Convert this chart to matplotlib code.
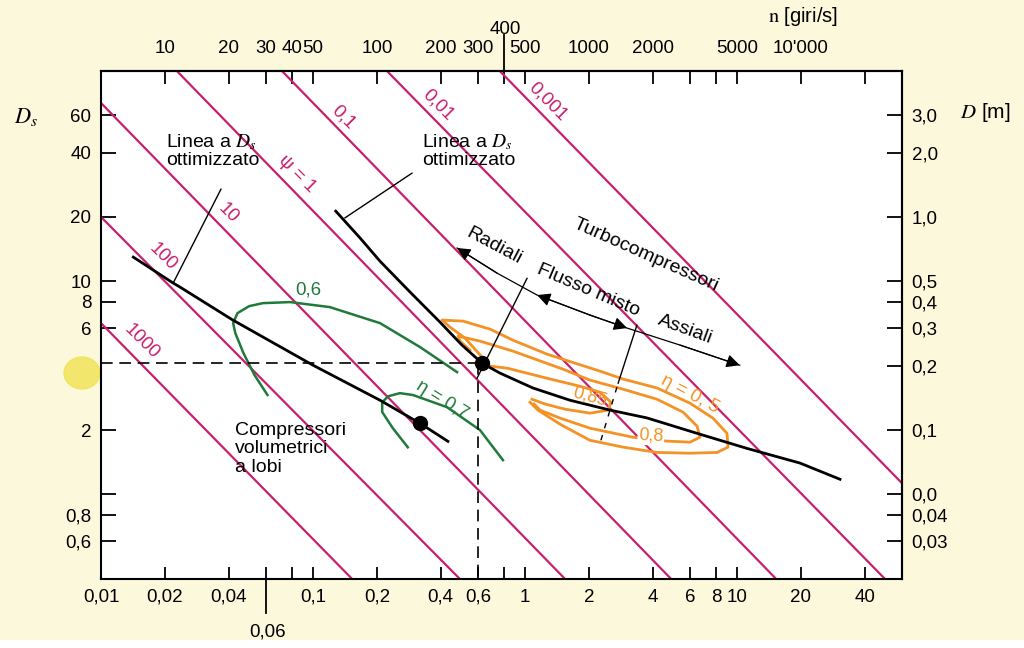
import matplotlib
matplotlib.use('Agg')
import matplotlib.pyplot as plt
from matplotlib.ticker import NullLocator, FixedLocator, FixedFormatter
from matplotlib.patches import Ellipse, Rectangle

plt.rcParams['font.family'] = ['Liberation Sans', 'DejaVu Sans']
plt.rcParams['mathtext.fontset'] = 'stix'

# ---------------- data ----------------
bottom_ticks = [0.01, 0.02, 0.04, 0.06, 0.08, 0.1, 0.2, 0.4, 0.6, 0.8, 1, 2, 4, 6, 8, 10, 20, 40]
bottom_labels = ['0,01', '0,02', '0,04', '', '', '0,1', '0,2', '0,4', '0,6', '', '1', '2', '4', '6', '8', '10', '20', '40']
top_n_ticks = [10, 20, 30, 40, 50, 100, 200, 300, 400, 500, 1000, 2000, 3000, 4000, 5000, 10000, 20000]
top_labels = ['10', '20', '30', '40', '50', '100', '200', '300', '', '500', '1000', '2000', '', '', '5000', "10'000", '']
left_ticks = [60, 40, 20, 10, 8, 6, 2, 1, 0.8, 0.6]
left_labels = ['60', '40', '20', '10', '8', '6', '2', '', '0,8', '0,6']
right_D_ticks = [3.0, 2.0, 1.0, 0.5, 0.4, 0.3, 0.2, 0.1, 0.05, 0.04, 0.03]
right_labels = ['3,0', '2,0', '1,0', '0,5', '0,4', '0,3', '0,2', '0,1', '0,0', '0,04', '0,03']
N_PER_NS = 500.0      # n [giri/s] = 500 * ns
D_PER_DS = 1 / 20.0   # D [m] = Ds / 20

# psi lines (endpoints)
psi_labels = ['1000', '100', '10', 'ψ = 1', '0,1', '0,01', '0,001']
psi_ns_start = [0.01, 0.01, 0.01, 0.0228, 0.0714, 0.2233, 0.76]
psi_Ds_start = [6.35, 20.0, 68.5, 96.8, 96.8, 96.8, 96.8]
psi_ns_end = [0.153, 0.493, 1.545, 4.89, 15.3, 49.9, 60.0]
psi_Ds_end = [0.4, 0.4, 0.4, 0.4, 0.4, 0.4, 1.126]

# optimum Ds lines
vol_ns = [0.0142, 0.0219, 0.0236, 0.0419, 0.1, 0.207, 0.32, 0.433]
vol_Ds = [12.96, 9.79, 9.37, 6.56, 4.03, 2.76, 2.15, 1.77]
turbo_ns = [0.128, 0.167, 0.207, 0.287, 0.397, 0.504, 0.627, 0.762, 1.09, 1.63, 2.52, 3.76, 6.48, 11.15, 19.8, 30.6]
turbo_Ds = [21.3, 15.9, 12.4, 8.88, 6.42, 5.01, 4.12, 3.70, 3.15, 2.76, 2.48, 2.28, 1.93, 1.64, 1.40, 1.175]
vol_point = (0.32, 2.15)
turbo_point = (0.625, 4.12)
ref_ns, ref_Ds = 0.6, 4.12

# efficiency curves: volumetric (green)
eta06_ns = [0.061, 0.053, 0.047, 0.043, 0.042, 0.044, 0.050, 0.058, 0.078, 0.12, 0.207, 0.32, 0.478]
eta06_Ds = [2.92, 3.62, 4.59, 5.70, 6.35, 7.07, 7.63, 7.88, 7.97, 7.55, 6.35, 4.90, 3.74]
eta07_ns = [0.28, 0.238, 0.212, 0.212, 0.226, 0.257, 0.296, 0.429, 0.613, 0.787]
eta07_Ds = [1.66, 2.04, 2.43, 2.70, 2.88, 2.98, 2.92, 2.56, 2.00, 1.445]

# efficiency curves: turbo (orange)
c1_ns = [0.627, 0.521, 0.4428, 0.406, 0.5099, 0.684, 0.8779, 1.270, 2.258, 2.899, 4.195, 6.0, 7.70, 8.97,
         9.07, 8.05, 6.0, 4.195, 2.899, 2.026, 1.463, 1.152, 1.056]
c1_Ds = [4.40, 5.40, 6.08, 6.56, 6.49, 5.95, 5.28, 4.54, 3.78, 3.47, 3.15, 2.674, 2.275, 1.93,
         1.663, 1.57, 1.557, 1.57, 1.663, 1.79, 2.13, 2.48, 2.70]
c2_ns = [0.5503, 0.4936, 0.4831, 0.613, 0.8779, 1.511, 2.026, 2.899, 4.195, 5.564, 6.48, 6.69,
         6.0, 4.675, 3.232, 2.026, 1.463, 1.177, 1.103]
c2_Ds = [4.74, 5.23, 5.52, 5.23, 4.69, 3.86, 3.43, 3.11, 2.79, 2.427, 2.085, 1.85,
         1.755, 1.774, 1.85, 2.04, 2.275, 2.48, 2.65]
c3_ns = [0.684, 0.8225, 1.270, 1.817, 2.258, 2.545, 2.464, 2.026, 1.544, 1.2427, 1.079]
c3_Ds = [3.99, 3.905, 3.50, 3.21, 3.01, 2.70, 2.48, 2.40, 2.506, 2.65, 2.79]

# leader lines and type boundaries
lead1_ns, lead1_Ds = [0.0219, 0.0368], [9.79, 27.0]
lead2_ns, lead2_Ds = [0.1415, 0.293], [19.8, 32.1]
bound1_ns, bound1_Ds = [0.594, 1.022], [3.50, 10.3]
bound2_ns, bound2_Ds = [2.75, 3.37], [3.32, 6.21]
bound2d_ns, bound2d_Ds = [2.28, 2.75], [1.79, 3.32]

# arrow arc Radiali / Flusso misto / Assiali
arc_ns = [0.478, 0.738, 1.14, 2.03, 3.03, 5.38, 10.3]
arc_Ds = [14.3, 10.9, 8.6, 6.92, 6.02, 5.01, 4.03]

# ---------------- figure ----------------
MAG = '#c81f6e'
GREEN = '#1f7a3c'
ORANGE = '#f39225'
BG = '#fbf8dc'
FS = 13.5

fig = plt.figure(figsize=(10.24, 6.48), dpi=100)
fig.patch.set_facecolor(BG)
W, H = 1024.0, 648.0
ax = fig.add_axes([101 / W, 69 / H, 801 / W, 508 / H])
ax.set_facecolor('white')
ax.set_xscale('log')
ax.set_yscale('log')
ax.set_xlim(0.01, 60.0)
ax.set_ylim(0.4, 96.8)


def ftext(x, y, s, **kw):
    kw.setdefault('ha', 'center')
    kw.setdefault('va', 'center')
    fig.text(x / W, 1 - y / H, s, **kw)


# ticks
ax.xaxis.set_major_locator(FixedLocator(bottom_ticks))
ax.xaxis.set_major_formatter(FixedFormatter(bottom_labels))
ax.xaxis.set_minor_locator(NullLocator())
ax.yaxis.set_major_locator(FixedLocator(left_ticks))
ax.yaxis.set_major_formatter(FixedFormatter(left_labels))
ax.yaxis.set_minor_locator(NullLocator())
ax.tick_params(axis='x', direction='in', length=9, width=1.3, labelsize=FS, pad=7, top=False)
ax.tick_params(axis='y', direction='in', length=11, width=1.3, labelsize=FS, pad=7, right=False)
for sp in ax.spines.values():
    sp.set_linewidth(1.5)

secx = ax.secondary_xaxis('top', functions=(lambda x: x * N_PER_NS, lambda n: n / N_PER_NS))
secx.xaxis.set_major_locator(FixedLocator(top_n_ticks))
secx.xaxis.set_major_formatter(FixedFormatter(top_labels))
secx.xaxis.set_minor_locator(NullLocator())
secx.tick_params(direction='in', length=9, width=1.3, labelsize=FS, pad=10)
secx.spines['top'].set_linewidth(1.5)

secy = ax.secondary_yaxis('right', functions=(lambda d: d * D_PER_DS, lambda D: D / D_PER_DS))
secy.yaxis.set_major_locator(FixedLocator(right_D_ticks))
secy.yaxis.set_major_formatter(FixedFormatter(right_labels))
secy.yaxis.set_minor_locator(NullLocator())
secy.tick_params(direction='in', length=11, width=1.3, labelsize=FS, pad=7)
secy.spines['right'].set_linewidth(1.5)

# long ticks for 400 (top) and 0,06 (bottom)
ax.plot([400 / N_PER_NS] * 2, [1.0, 1.07], transform=ax.get_xaxis_transform(), clip_on=False, color='k', lw=1.3)
ax.plot([0.06] * 2, [0.0, -0.067], transform=ax.get_xaxis_transform(), clip_on=False, color='k', lw=1.3)
ftext(505, 29, '400', fontsize=FS)
ftext(268, 632, '0,06', fontsize=FS)

# axis titles
ftext(26, 117, r'$D_s$', fontsize=16)
ftext(803, 17, r'$\mathrm{n}$ [giri/s]', fontsize=14.5)
ftext(985, 112, r'$D$ [m]', fontsize=15)

# psi lines
for i in range(len(psi_labels)):
    ax.plot([psi_ns_start[i], psi_ns_end[i]], [psi_Ds_start[i], psi_Ds_end[i]], color=MAG, lw=1.6, zorder=2)
psi_pos = [(142, 342), (163, 257), (228, 213), (297, 174), (343, 117), (438, 105), (548, 102)]
for (px, py), lab in zip(psi_pos, psi_labels):
    ftext(px, py, lab, fontsize=FS, color=MAG, rotation=-45)

# green curves
ax.plot(eta06_ns, eta06_Ds, color=GREEN, lw=1.8, zorder=3)
ax.plot(eta07_ns, eta07_Ds, color=GREEN, lw=1.8, zorder=3)
ftext(308, 290, '0,6', fontsize=FS, color=GREEN)
ftext(442, 400, 'η = 0,7', fontsize=FS, color=GREEN, rotation=-32)

# orange curves
for cn, cd in [(c1_ns, c1_Ds), (c2_ns, c2_Ds), (c3_ns, c3_Ds)]:
    ax.plot(cn, cd, color=ORANGE, lw=2.0, zorder=3, solid_joinstyle='round')
ftext(590, 397, '0,85', fontsize=13, color=ORANGE, rotation=-15)
ftext(651, 436, '0,8', fontsize=13, color=ORANGE, rotation=-3,
      bbox=dict(boxstyle='square,pad=0.05', fc='white', ec='none'))
ftext(690, 394, 'η = 0, 5', fontsize=FS, color=ORANGE, rotation=-28)

# dashed reference lines
ax.plot([0.01, ref_ns], [ref_Ds, ref_Ds], color='k', lw=1.2, ls=(0, (7, 4)), zorder=4)
ax.plot([ref_ns, ref_ns], [ref_Ds, 0.4], color='k', lw=1.2, ls=(0, (7, 4)), zorder=4)

# optimum lines
ax.plot(vol_ns, vol_Ds, color='k', lw=2.0, zorder=5)
ax.plot(turbo_ns, turbo_Ds, color='k', lw=2.0, zorder=5)
ax.plot(*vol_point, 'o', color='k', ms=10, zorder=6)
ax.plot(*turbo_point, 'o', color='k', ms=10, zorder=6)

# leaders and boundaries
ax.plot(lead1_ns, lead1_Ds, color='k', lw=1.0, zorder=5)
ax.plot(lead2_ns, lead2_Ds, color='k', lw=1.0, zorder=5)
ax.plot(bound1_ns, bound1_Ds, color='k', lw=1.0, zorder=5)
ax.plot(bound2_ns, bound2_Ds, color='k', lw=1.0, zorder=5)
ax.plot(bound2d_ns, bound2d_Ds, color='k', lw=1.0, ls=(0, (4, 5)), zorder=5)

# arc with arrows
ax.plot(arc_ns, arc_Ds, color='k', lw=0.9, zorder=5)
arrow_pairs = [(0, 1), (2, 3), (4, 3), (6, 5)]
for tip, back in arrow_pairs:
    ax.annotate('', xy=(arc_ns[tip], arc_Ds[tip]), xytext=(arc_ns[back], arc_Ds[back]),
                arrowprops=dict(arrowstyle='-|>', color='k', lw=0.9, mutation_scale=20,
                                shrinkA=0, shrinkB=0), zorder=6)

# texts
ftext(166, 132, 'Linea a $D_s$\nottimizzato', fontsize=14, ha='left', va='top', linespacing=1.05)
ftext(422, 132, 'Linea a $D_s$\nottimizzato', fontsize=14, ha='left', va='top', linespacing=1.05)
ftext(235, 422, 'Compressori\nvolumetrici\na lobi', fontsize=14, ha='left', va='top', linespacing=1.1)
ftext(494, 246, 'Radiali', fontsize=14, rotation=-28)
ftext(588, 290, 'Flusso misto', fontsize=14, rotation=-23)
ftext(685, 329, 'Assiali', fontsize=14, rotation=-20)
ftext(646, 255, 'Turbocompressori', fontsize=14, rotation=-24)

# yellow highlight mark and bottom strip
fig.add_artist(Ellipse((82 / W, 1 - 373 / H), 36 / W, 32 / H, transform=fig.transFigure,
                       color='#f1e35a', alpha=0.85, zorder=-1))
fig.add_artist(Rectangle((0, 0), 1, 8 / H, transform=fig.transFigure, color='white', zorder=-1))

fig.savefig('out.png', dpi=100, facecolor=fig.get_facecolor())
